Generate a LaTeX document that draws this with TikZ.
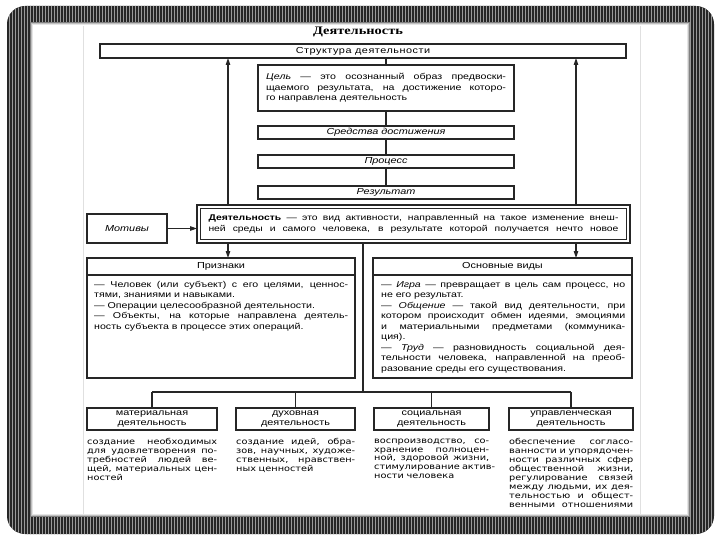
\documentclass[tikz,border=0pt]{standalone}
\usepackage{fontspec}
\setmainfont{Liberation Sans}[FakeStretch=1.25]
\newfontfamily\descfont{DejaVu Sans}[FakeStretch=1.22]
\newfontfamily\titlefont{Liberation Serif}[FakeStretch=1.25]
\newfontfamily\hdrfont{Liberation Sans}[FakeStretch=1.25,LetterSpace=6]
\usetikzlibrary{arrows.meta,patterns}
\newcommand\jl[1]{\makebox[\linewidth][s]{\spaceskip=0pt\xspaceskip=0pt\relax #1}}
\begin{document}
\begin{tikzpicture}[x=1pt,y=-1pt,
  box/.style={draw=black!85, line width=1.05pt, inner sep=0pt, outer sep=0pt},
  ln/.style={draw=black!85, line width=1.05pt},
  arr/.style={ln, -{Triangle[length=7pt,width=4.5pt]}},
  bt/.style={inner sep=0pt, font=\fontsize{8.7}{10.5}\selectfont},
  body/.style={inner sep=0pt, anchor=north west, align=left, font=\fontsize{8.5}{10.5}\selectfont},
  desc/.style={inner sep=0pt, anchor=north west, align=left, font=\descfont\fontsize{8}{8.9}\selectfont},
  lbl/.style={box, minimum height=22pt, align=center, font=\fontsize{8.7}{9.8}\selectfont},
]
\useasboundingbox (0,0) rectangle (720,540);
\fill[white] (0,0) rectangle (720,540);
% frame
\fill[black!85, rounded corners=18pt] (7,6) rectangle (714,534);
\fill[pattern=vertical lines, pattern color=black!40, rounded corners=18pt] (7,6) rectangle (714,534);
\fill[white] (30,22) rectangle (690,517);
\draw[black!50, line width=1pt] (30.5,22.5) rectangle (689.5,516.5);
\draw[black!25, line width=1pt] (31.5,23.5) rectangle (688.5,515.5);
\draw[black!10, line width=1pt] (32.5,24.5) rectangle (687.5,514.5);
% page edges
\draw[black!12, line width=1pt] (83,26) -- (83,514);
\draw[black!12, line width=1pt] (640,26) -- (640,514);

% title
\node[inner sep=0pt, font=\titlefont\bfseries\fontsize{11.5}{13}\selectfont] (title) at (358,31.5) {Деятельность};

% structure column
\node[box, inner sep=0pt, font=\hdrfont\fontsize{8.7}{10.5}\selectfont, minimum width=526pt, minimum height=14pt] (struct) at (363,51) {Структура деятельности};
\node[box, bt, font=\fontsize{8.5}{10.5}\selectfont, minimum width=256pt, minimum height=46pt, text width=240pt, align=left] (cel) at (386,88)
  {\jl{\textit{Цель} — это осознанный образ предвоски-}\\\jl{щаемого результата, на достижение которо-}\\го направлена деятельность};
\node[box, bt, minimum width=256pt, minimum height=13pt] (sred) at (386,132.5) {\textit{Средства достижения}};
\node[box, bt, minimum width=256pt, minimum height=13pt] (proc) at (386,161.5) {\textit{Процесс}};
\node[box, bt, minimum width=256pt, minimum height=13pt] (res) at (386,192.5) {\textit{Результат}};

\draw[ln] (cel.north |- struct.south) -- (cel.north);
\draw[ln] (cel.south) -- (sred.north);
\draw[ln] (sred.south) -- (proc.north);
\draw[ln] (proc.south) -- (res.north);

% main box
\node[box, line width=2.8pt, minimum width=433pt, minimum height=38pt, text width=410pt, align=left,
  font=\fontsize{8.3}{11}\selectfont] (main) at (413.5,224)
  {\jl{\textbf{Деятельность} — это вид активности, направленный на такое изменение внеш-}\\\jl{ней среды и самого человека, в результате которой получается нечто новое}};
\draw[black!85, line width=0.7pt] ([shift={(3.3,3.3)}]main.north west) rectangle ([shift={(-3.3,-3.3)}]main.south east);

\node[box, bt, minimum width=80pt, minimum height=29pt] (mot) at (127,228.5) {\textit{Мотивы}};
\draw[arr] (mot.east) -- (mot.east -| main.west);

\coordinate (L) at (228,0);
\coordinate (R) at (576,0);
\coordinate (cx) at (363,0);
\draw[arr] (L |- main.north) -- (L |- struct.south);
\draw[arr] (R |- main.north) -- (R |- struct.south);

% Признаки
\node[box, minimum width=268pt, minimum height=120pt] (prz) at (221,318) {};
\node[bt] (przh) at (221,266.5) {Признаки};
\coordinate (sep) at (0,275);
\draw[ln] (prz.west |- sep) -- (prz.east |- sep);
\node[body, text width=254pt] (przb) at (94,281)
  {\jl{— Человек (или субъект) с его целями, ценнос-}\\тями, знаниями и навыками.\\— Операции целесообразной деятельности.\\\jl{— Объекты, на которые направлена деятель-}\\ность субъекта в процессе этих операций.};

% Основные виды
\node[box, minimum width=259pt, minimum height=120pt] (osn) at (502.5,318) {};
\node[bt] (osnh) at (502.5,266.5) {Основные виды};
\draw[ln] (osn.west |- sep) -- (osn.east |- sep);
\node[body, text width=244pt] (osnb) at (381,281)
  {\jl{— \textit{Игра} — превращает в цель сам процесс, но}\\не его результат.\\\jl{— \textit{Общение} — такой вид деятельности, при}\\\jl{котором происходит обмен идеями, эмоциями}\\\jl{и материальными предметами (коммуника-}\\ция).\\\jl{— \textit{Труд} — разновидность социальной дея-}\\\jl{тельности человека, направленной на преоб-}\\разование среды его существования.};

\draw[arr] (L |- main.south) -- (L |- prz.north);
\draw[arr] (R |- main.south) -- (R |- osn.north);

% bottom row
\node[lbl, minimum width=130pt] (mat) at (152,419) {материальная\\деятельность};
\node[lbl, minimum width=119pt] (dukh) at (295.5,419) {духовная\\деятельность};
\node[lbl, minimum width=115pt] (soc) at (431.5,419) {социальная\\деятельность};
\node[lbl, minimum width=124pt] (upr) at (571,419) {управленческая\\деятельность};

\coordinate (br) at (0,392);
\draw[ln] (cx |- main.south) -- (cx |- br);
\draw[ln] (mat.north |- br) -- (upr.north |- br);
\foreach \n in {mat,dukh,soc,upr} \draw[ln] (\n.north |- br) -- (\n.north);

\node[desc, text width=130pt] (matd) at (87,438.5)
  {\jl{создание необходимых}\\\jl{для удовлетворения по-}\\\jl{требностей людей ве-}\\\jl{щей, материальных цен-}\\ностей};
\node[desc, text width=119pt] (dukhd) at (236,438.5)
  {\jl{создание идей, обра-}\\\jl{зов, научных, художе-}\\\jl{ственных, нравствен-}\\ных ценностей};
\node[desc, text width=115pt] (socd) at (374,438.5)
  {\jl{воспроизводство, со-}\\\jl{хранение полноцен-}\\\jl{ной, здоровой жизни,}\\\jl{стимулирование актив-}\\ности человека};
\node[desc, text width=124pt] (uprd) at (509,438.5)
  {\jl{обеспечение согласо-}\\\jl{ванности и упорядочен-}\\\jl{ности различных сфер}\\\jl{общественной жизни,}\\\jl{регулирование связей}\\\jl{между людьми, их дея-}\\\jl{тельностью и общест-}\\\jl{венными отношениями}};
\end{tikzpicture}
\end{document}
